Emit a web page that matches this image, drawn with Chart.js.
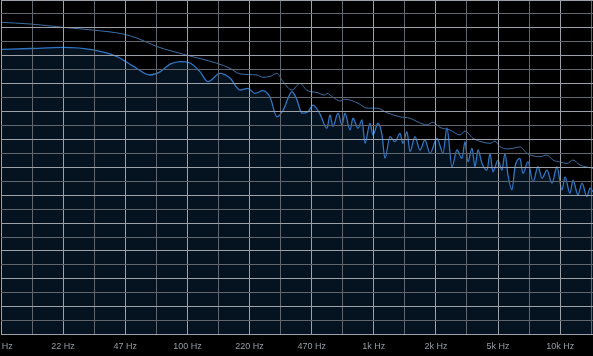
<!DOCTYPE html>
<html>
<head>
<meta charset="utf-8">
<script src="https://cdn.jsdelivr.net/npm/chart.js@4/dist/chart.umd.min.js"></script>
<style>
  html, body { margin: 0; padding: 0; background: #000; }
  #wrap { width: 593px; height: 356px; position: relative; }
</style>
</head>
<body>
<div id="wrap"><canvas id="spectrum"></canvas></div>
<script>
// grid positions on the frequency axis (3 per decade for labels, halves between)
const gridFreqs = [10, 14.68, 21.54, 31.62, 46.42, 68.13, 100, 146.8, 215.4, 316.2,
  464.2, 681.3, 1000, 1468, 2154, 3162, 4642, 6813, 10000, 14678];
const freqLabels = ['10 Hz', '', '22 Hz', '', '47 Hz', '', '100 Hz', '', '220 Hz', '',
  '470 Hz', '', '1k Hz', '', '2k Hz', '', '5k Hz', '', '10k Hz', ''];

// peak hold line
const peakFreq = [10, 14.3, 21.5, 31.2, 45.1, 55.7, 68.7, 99.5, 144.1, 169.3, 191.5, 236.3,
  254.4, 277.4, 302.5, 325.9, 364.1, 401.9, 438.1, 495.8, 547.3, 560.9, 603.9, 658.7, 700.7,
  822.8, 919.7, 1040, 1177, 1382, 1564, 1705, 1930, 2078, 2266, 2563, 2900, 3085, 3406, 3807,
  4202, 4470, 4753, 5183, 5583, 6084, 6637, 7146, 7792, 8495, 9149, 9975, 10878, 11714,
  12772, 13925, 15000];
const peakDb = [-8.0, -8.6, -9.8, -10.8, -12.2, -14.1, -16.7, -19.8, -22.7, -24.5, -26.5, -26.9,
  -27.7, -27.4, -26.3, -29.3, -32.3, -29.9, -32.4, -33.2, -34.1, -33.5, -34.9, -36.2, -35.6,
  -37.0, -38.8, -38.8, -40.4, -41.9, -42.4, -43.6, -44.8, -43.8, -45.7, -46.6, -48.4, -47.0,
  -49.6, -50.9, -51.4, -50.6, -52.6, -53.4, -53.2, -52.7, -55.0, -55.9, -56.2, -55.6, -57.4,
  -58.1, -58.6, -57.4, -59.2, -59.9, -60.4];

// live spectrum (filled)
const specFreq = [10, 14.3, 21.5, 31.2, 41.9, 51.1, 63.0, 71.3, 80.7, 91.3, 103.3, 116.8,
  129.0, 149.6, 169.3, 191.5, 211.4, 230.5, 254.4, 277.4, 302.5, 325.9, 364.1, 387.3, 411.9,
  443.6, 471.9, 514.5, 560.9, 582.1, 603.9, 642.7, 675.2, 700.7, 745.3, 773.4, 822.8, 864.6,
  897.3, 954.3, 990.1, 1053, 1107, 1148, 1221, 1299, 1382, 1434, 1507, 1564, 1663, 1770, 1882,
  2002, 2183, 2351, 2470, 2627, 2795, 2973, 3085, 3201, 3364, 3492, 3622, 3807, 4049, 4202,
  4360, 4638, 4872, 5056, 5248, 5512, 5723, 6084, 6316, 6720, 7146, 7602, 7987, 8495, 9036,
  9612, 10226, 10612, 11287, 11714, 12459, 13093, 13925, 14454, 15000];
const specDb = [-17.7, -17.4, -17.0, -17.9, -20.3, -23.7, -26.9, -25.8, -23.0, -22.1, -22.6, -25.7,
  -29.3, -26.3, -28.0, -32.3, -31.7, -33.5, -32.5, -34.8, -41.9, -39.6, -32.9, -35.9, -40.6,
  -40.1, -37.7, -40.9, -46.0, -41.2, -45.4, -40.6, -44.8, -40.6, -46.6, -42.4, -46.0, -43.0,
  -51.4, -44.2, -48.4, -44.2, -48.4, -56.8, -49.0, -50.8, -47.8, -51.4, -47.2, -54.4, -49.0,
  -53.8, -50.2, -55.0, -49.6, -54.9, -45.9, -59.8, -53.8, -56.8, -50.8, -58.0, -53.2, -59.8,
  -53.8, -58.6, -61.0, -55.0, -61.6, -57.4, -61.0, -55.0, -62.8, -68.1, -59.8, -56.8, -62.2,
  -58.0, -65.2, -59.8, -63.9, -61.0, -65.7, -59.8, -68.1, -63.4, -69.3, -64.6, -69.9, -65.7,
  -70.5, -67.5, -68.8];

const majorGrid = '#9ba1a7';
const minorGrid = '#60666d';

function points(xs, ys) {
  return xs.map((x, i) => ({ x: x, y: ys[i] }));
}

const ctx = document.getElementById('spectrum').getContext('2d');
new Chart(ctx, {
  type: 'line',
  data: {
    datasets: [
      {
        label: 'Peak',
        data: points(peakFreq, peakDb),
        borderColor: '#3b6fa6',
        borderWidth: 1,
        pointRadius: 0,
        cubicInterpolationMode: 'monotone',
        fill: false
      },
      {
        label: 'Spectrum',
        data: points(specFreq, specDb),
        borderColor: '#2e76c4',
        borderWidth: 1.3,
        backgroundColor: '#05121f',
        pointRadius: 0,
        cubicInterpolationMode: 'monotone',
        fill: 'start'
      }
    ]
  },
  options: {
    responsive: true,
    maintainAspectRatio: false,
    animation: false,
    layout: { padding: { left: 1, right: 0, top: 0, bottom: 0 } },
    plugins: {
      legend: { display: false },
      tooltip: { enabled: false },
      filler: { drawTime: 'beforeDatasetsDraw' }
    },
    scales: {
      x: {
        type: 'logarithmic',
        min: 10,
        max: 15000,
        bounds: 'data',
        border: { display: false },
        grid: {
          z: 1,
          drawTicks: false,
          color: c => (c.index % 2 === 0 ? majorGrid : minorGrid),
          lineWidth: 1
        },
        afterBuildTicks: s => { s.ticks = gridFreqs.map(v => ({ value: v })); },
        afterFit: s => { s.paddingLeft = 0; s.paddingRight = 0; s.height = 21.4; },
        ticks: {
          autoSkip: false,
          maxRotation: 0,
          padding: 7,
          color: '#959ca3',
          font: { family: 'Liberation Sans', size: 9 },
          callback: (v, i) => freqLabels[i]
        }
      },
      y: {
        min: -120,
        max: 0,
        border: { display: false },
        grid: {
          z: 1,
          drawTicks: false,
          color: c => (c.index % 2 === 0 ? majorGrid : minorGrid),
          lineWidth: 1
        },
        ticks: { display: false, stepSize: 5 }
      }
    }
  }
});
</script>
</body>
</html>
